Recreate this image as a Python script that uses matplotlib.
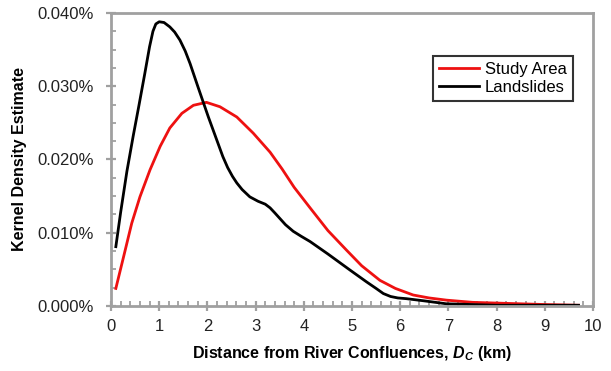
import matplotlib
matplotlib.use("Agg")
import matplotlib.pyplot as plt
from matplotlib.ticker import MultipleLocator, FuncFormatter

plt.rcParams['font.family'] = ['Liberation Sans', 'DejaVu Sans']
plt.rcParams['mathtext.fontset'] = 'custom'
plt.rcParams['mathtext.it'] = 'Liberation Sans:bold:italic'
plt.rcParams['mathtext.rm'] = 'Liberation Sans:bold'

# kernel density estimates (percent) vs distance from river confluences (km)
study_x = [0.1, 0.26, 0.43, 0.6, 0.81, 1.02, 1.22, 1.47, 1.71, 1.98, 2.26,
           2.61, 2.95, 3.3, 3.55, 3.8, 4.13, 4.5, 4.89, 5.2, 5.58, 5.9, 6.27,
           6.6, 6.96, 7.5, 8.0, 8.5, 9.0, 9.7]
study_y = [0.0024, 0.0067, 0.0113, 0.0149, 0.0186, 0.0218, 0.0243, 0.0263,
           0.0274, 0.0278, 0.0272, 0.0258, 0.0236, 0.0210, 0.0187, 0.0162,
           0.0134, 0.0103, 0.0076, 0.0055, 0.0035, 0.0024, 0.0015, 0.0011,
           0.0008, 0.0005, 0.0004, 0.0003, 0.0002, 0.0001]

slide_x = [0.1, 0.2, 0.33, 0.46, 0.58, 0.7, 0.8, 0.87, 0.93, 1.0, 1.1,
           1.22, 1.32, 1.43, 1.54, 1.64, 1.81, 1.92, 2.02, 2.12, 2.22, 2.32,
           2.42, 2.52, 2.61, 2.72, 2.88, 3.05, 3.2, 3.3, 3.4, 3.51, 3.62,
           3.78, 3.95, 4.13, 4.5, 4.96, 5.3, 5.5, 5.65, 5.8, 5.95, 6.13, 6.5,
           6.96, 7.5, 8.0, 9.7]
slide_y = [0.0081, 0.0128, 0.0184, 0.0232, 0.0274, 0.0317, 0.0354, 0.0375,
           0.0385, 0.0388, 0.0387, 0.0381, 0.0374, 0.0363, 0.0348, 0.0331,
           0.0298, 0.0277, 0.0258, 0.0240, 0.0222, 0.0204, 0.0189, 0.0177,
           0.0168, 0.0159, 0.0149, 0.0143, 0.0139, 0.0134, 0.0127, 0.0119,
           0.0111, 0.0102, 0.0095, 0.0088, 0.0071, 0.0049, 0.0033, 0.0024,
           0.0017, 0.0013, 0.0011, 0.0010, 0.0007, 0.0003, 0.0002, 0.0001,
           0.0001]

fig = plt.figure(figsize=(6.11, 3.71), dpi=100)
ax = fig.add_axes([0.1817, 0.1752, 0.7888, 0.7898])

ax.plot(study_x, study_y, color='#ee1111', lw=2.0, label='Study Area',
        solid_joinstyle='round')
ax.plot(slide_x, slide_y, color='black', lw=2.0, label='Landslides',
        solid_joinstyle='round')

ax.set_xlim(0, 10)
ax.set_ylim(0, 0.04)
ax.xaxis.set_major_locator(MultipleLocator(1))
ax.xaxis.set_minor_locator(MultipleLocator(0.2))
ax.yaxis.set_major_locator(MultipleLocator(0.01))
ax.yaxis.set_minor_locator(MultipleLocator(0.0025))
ax.yaxis.set_major_formatter(FuncFormatter(lambda v, p: f"{v:.3f}%"))

gray = '#a0a0a0'
for s in ax.spines.values():
    s.set_color(gray)
    s.set_linewidth(2.0)
ax.tick_params(which='major', direction='inout', length=7, width=1.6,
               color=gray, labelsize=12, labelcolor='#222222')
ax.tick_params(axis='y', which='major', pad=9)
ax.tick_params(axis='x', which='major', pad=6)
ax.tick_params(which='minor', direction='in', length=3.5, width=1.3,
               color=gray)

ax.set_xlabel(r"Distance from River Confluences, $D_C$ (km)",
              fontsize=11.5, fontweight='bold', labelpad=7)
ax.set_ylabel("Kernel Density Estimate", fontsize=11.5, fontweight='bold',
              labelpad=7)

leg = ax.legend(loc='upper right', bbox_to_anchor=(0.958, 0.853),
                borderaxespad=0, fancybox=False, fontsize=12,
                handlelength=2.4, handletextpad=0.35, borderpad=0.35,
                labelspacing=0.2)
leg.get_frame().set_edgecolor('black')
leg.get_frame().set_linewidth(1.5)

fig.savefig('out.png', dpi=100)
